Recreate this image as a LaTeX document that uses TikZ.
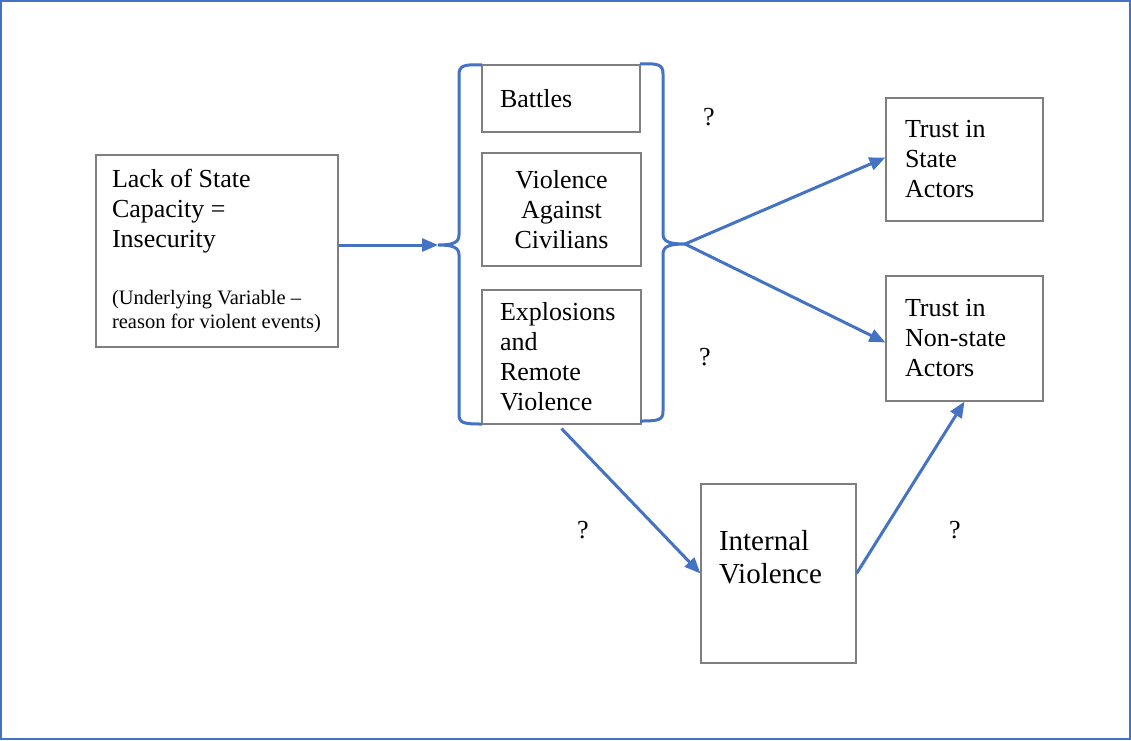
\documentclass[tikz,border=0pt]{standalone}
\usepackage{fontspec}
\setmainfont{Liberation Serif}
\usetikzlibrary{arrows.meta}
\definecolor{FlowBlue}{HTML}{4472C4}
\definecolor{BoxGray}{HTML}{7F7F7F}

\begin{document}
\begin{tikzpicture}[x=1pt, y=-1pt, >={Triangle[length=16pt,width=13pt]},
    box/.style={draw=BoxGray, line width=1.1pt, inner ysep=0pt, align=flush left,
        font=\fontsize{26}{30}\selectfont},
    flow/.style={->, FlowBlue, line width=3pt},
    brace/.style={FlowBlue, line width=3pt},
    qmark/.style={font=\fontsize{26}{30}\selectfont}]

    \useasboundingbox (0,0) rectangle (1131,740);

    % ========== Frame ==========
    \draw[FlowBlue, line width=1.4pt] (1,1) rectangle (1130,739);

    % ========== LEFT: cause ==========
    \node[box, minimum width=242, minimum height=192, inner xsep=16, text width=210] (lack) at (217,251)
        {Lack of State\\Capacity =\\Insecurity\\[33pt]
         {\fontsize{20.5}{24}\selectfont (Underlying Variable --\\reason for violent events)\par}};

    % ========== MIDDLE: violent events ==========
    \node[box, minimum width=158, minimum height=67, inner xsep=18, text width=122] (battles) at (561,98.5)
        {Battles};
    \node[box, align=flush center, minimum width=159, minimum height=113, inner xsep=10, text width=139] (civil) at (561.5,209.5)
        {Violence\\Against\\Civilians};
    \node[box, minimum width=159, minimum height=134, inner xsep=18, text width=123] (remote) at (561.5,357)
        {Explosions\\and\\Remote\\Violence};

    % braces round the events
    \coordinate (ltip) at (438,245);
    \coordinate (rtip) at (685,244);
    \draw[brace] (482,65) .. controls (463,64) and (459,66) .. (459,75) -- (459,235)
        .. controls (459,243) and (452,245) .. (ltip)
        .. controls (452,245) and (459,247) .. (459,255) -- (459,414)
        .. controls (459,423) and (463,424) .. (482,424);
    \draw[brace] (640,64) .. controls (659,63) and (663,65) .. (663,74) -- (663,234)
        .. controls (663,242) and (670,244) .. (rtip)
        .. controls (670,244) and (663,246) .. (663,254) -- (663,411)
        .. controls (663,420) and (659,421) .. (640,421);

    % ========== RIGHT: trust ==========
    \node[box, minimum width=157, minimum height=123, inner xsep=19, text width=119] (state) at (964.5,159.5)
        {Trust in\\State\\Actors};
    \node[box, minimum width=157, minimum height=125, inner xsep=19, text width=119] (nonstate) at (964.5,338.5)
        {Trust in\\Non-state\\Actors};

    % ========== BOTTOM: internal violence ==========
    \node[box, minimum width=155, minimum height=179, inner xsep=18, text width=119,
        font=\fontsize{29}{33}\selectfont] (internal) at (778.5,573.5)
        {Internal\\Violence\\\mbox{}};

    % Connectors
    \draw[flow] (lack.east |- ltip) -- (ltip);
    \draw[flow] (rtip) -- ([yshift=2pt]state.west);
    \draw[flow] (rtip) -- ([yshift=-4pt]nonstate.west);
    \draw[flow] ([yshift=-4pt]remote.south) -- (internal.west);
    \draw[flow] (internal.east) -- (nonstate.south);

    % Unknown effects
    \node[qmark] (q1) at (709,117) {?};
    \node[qmark] (q2) at (705,357) {?};
    \node[qmark] (q3) at (583,530) {?};
    \node[qmark] (q4) at (955,530) {?};

\end{tikzpicture}
\end{document}
